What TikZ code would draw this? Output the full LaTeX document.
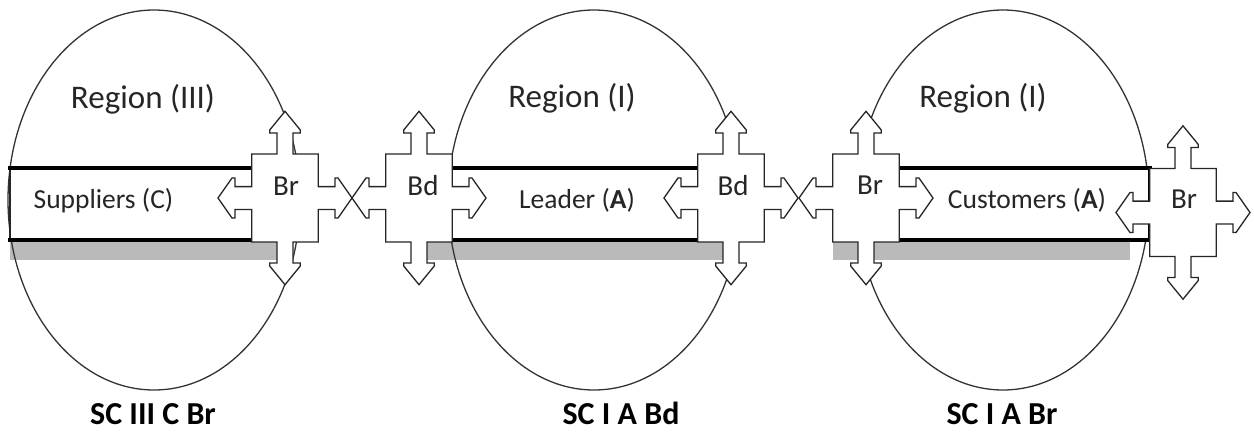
\documentclass[tikz,border=0pt]{standalone}
\usepackage{fontspec}
\setmainfont{Carlito}
\tikzset{
  ell/.style={draw=black!80, line width=1.3pt},
  grayband/.style={fill=black!27, draw=none},
  bandline/.style={line width=3.6pt, draw=black, line cap=rect, line join=miter},
  thinline/.style={line width=1.2pt, draw=black!85},
  crossline/.style={draw=black!85, fill=white, line width=1.3pt, line join=miter},
  regtxt/.style={font=\fontsize{33}{36}\selectfont, text=black!85, anchor=base, inner sep=0pt},
  bandtxt/.style={font=\fontsize{27.5}{30}\selectfont, text=black!85, anchor=base, inner sep=0pt},
  crosstxt/.style={font=\fontsize{29}{32}\selectfont, text=black!85, anchor=base, inner sep=0pt},
  sctxt/.style={font=\bfseries\fontsize{32}{34}\selectfont, text=black, anchor=base, inner sep=0pt},
}
% quad arrow callout outline centred at (#2,#3), named #1
\newcommand\qcross[3]{%
  \begin{scope}[shift={(#2,#3)}]
    \coordinate (#1) at (0,0);
    \draw[crossline] (0,-86.7) -- (15.3,-68) -- (15.3,-65) -- (8,-65) -- (8,-44)
      -- (33.3,-44) -- (33.3,-11.4) -- (50,-11.4) -- (50,-20) -- (53,-20)
      -- (67,0) -- (53,20) -- (50,20) -- (50,11.4) -- (33.3,11.4) -- (33.3,44)
      -- (8,44) -- (8,65) -- (15.3,65) -- (15.3,68) -- (0,86.7)
      -- (-15.3,68) -- (-15.3,65) -- (-8,65) -- (-8,44) -- (-33.3,44)
      -- (-33.3,11.4) -- (-50,11.4) -- (-50,20) -- (-53,20) -- (-67,0)
      -- (-53,-20) -- (-50,-20) -- (-50,-11.4) -- (-33.3,-11.4) -- (-33.3,-44)
      -- (-8,-44) -- (-8,-65) -- (-15.3,-65) -- (-15.3,-68) -- cycle;
  \end{scope}}
\begin{document}
\begin{tikzpicture}[x=1pt,y=-1pt]
\useasboundingbox (0,0) rectangle (1254,432);
% gray shadow bands
\fill[grayband] (10,242) rectangle (284,260);
\fill[grayband] (419,242) rectangle (731,260);
\fill[grayband] (833,242) rectangle (1130,260);
% ellipses
\draw[ell] (154,200) ellipse [x radius=146pt, y radius=190pt];
\draw[ell] (594,200) ellipse [x radius=146pt, y radius=190pt];
\draw[ell] (1003,200) ellipse [x radius=146pt, y radius=190pt];
% bands
\fill[white] (10,168) rectangle (251.7,240);
\fill[white] (452.3,168) rectangle (697.7,240);
\fill[white] (899.3,168) rectangle (1149.7,240);
\draw[thinline] (10,168) -- (10,240);
\draw[bandline] (10,168) -- (251.7,168);
\draw[bandline] (10,240) -- (251.7,240);
\draw[bandline] (452.3,168) -- (697.7,168);
\draw[bandline] (452.3,240) -- (697.7,240);
\draw[bandline] (899.3,168) -- (1149.7,168) -- (1149.7,240) -- (899.3,240);
% crosses
\qcross{c1}{285}{198}
\qcross{c2}{419}{198}
\qcross{c3}{731}{198}
\qcross{c4}{866}{198}
\qcross{c5}{1183}{212.5}
% cross labels
\node[crosstxt] (l1) at (286,195) {Br};
\node[crosstxt] (l2) at (423,195) {Bd};
\node[crosstxt] (l3) at (733,195) {Bd};
\node[crosstxt] (l4) at (870,194) {Br};
\node[crosstxt] (l5) at (1184,208) {Br};
% region labels
\node[regtxt] (r1) at (143,108) {Region (III)};
\node[regtxt] (r2) at (572,107) {Region (I)};
\node[regtxt] (r3) at (983,107) {Region (I)};
% band labels
\node[bandtxt] (b1) at (103.5,208) {Suppliers (C)};
\node[bandtxt] (b2) at (577,208) {Leader (\textbf{A})};
\node[bandtxt] (b3) at (1027,208) {Customers (\textbf{A})};
% bottom labels
\node[sctxt] (s1) at (153,424) {SC III C Br};
\node[sctxt] (s2) at (621,424) {SC I A Bd};
\node[sctxt] (s3) at (1002,424) {SC I A Br};
\end{tikzpicture}
\end{document}
